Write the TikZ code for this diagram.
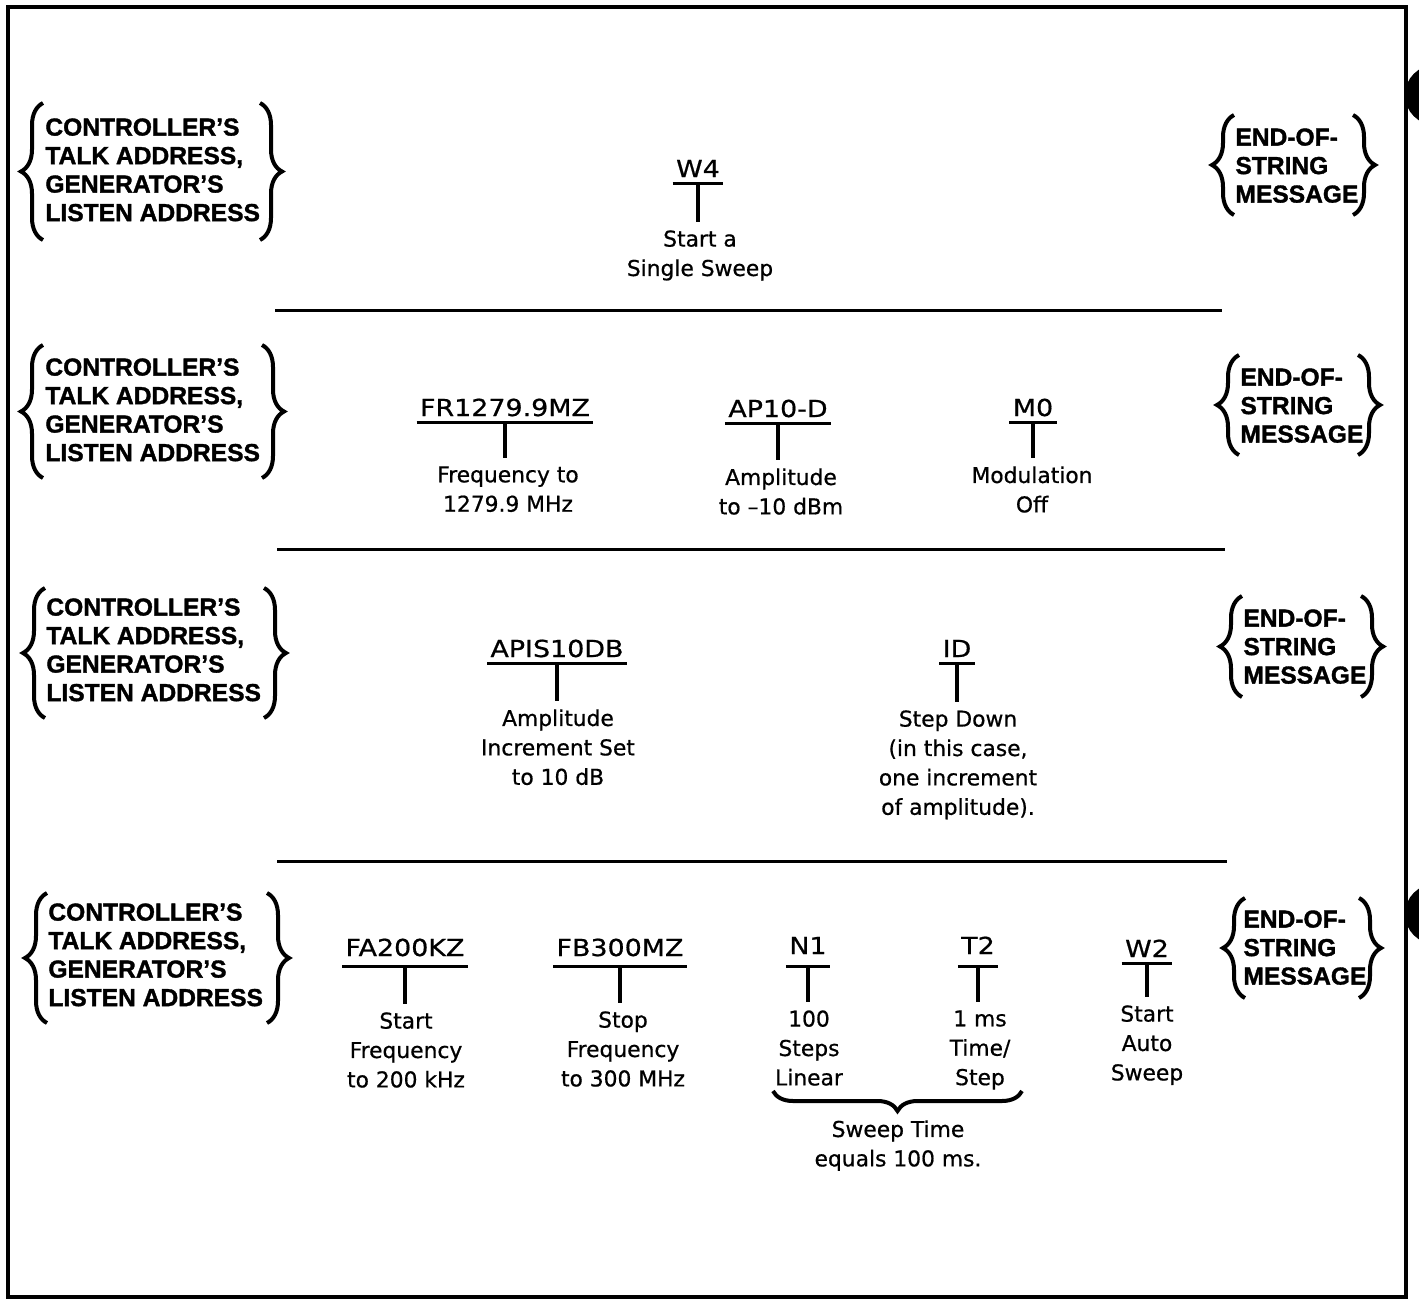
\documentclass[tikz,border=0pt]{standalone}
\usepackage{fontspec}
\setmainfont{DejaVu Sans}[FakeBold=0.7]
\newfontfamily\lblfont{Liberation Sans}[BoldFeatures={FakeBold=1.4}]
\newfontfamily\cmdfont{DejaVu Sans}[FakeStretch=1.15, FakeBold=0.7]
\usepackage{tikz}
\usetikzlibrary{decorations.pathreplacing}

\begin{document}
\begin{tikzpicture}[x=0.5pt, y=-0.5pt,
    lbl/.style={anchor=north west, inner sep=0pt, align=left,
        font=\lblfont\bfseries\fontsize{12.3}{14.25}\selectfont},
    cmd/.style={anchor=base, inner sep=0pt, inner xsep=1.5pt, text depth=3pt,
        font=\cmdfont\fontsize{11.7}{14}\selectfont},
    desc/.style={anchor=north, inner sep=0pt, align=center,
        font=\fontsize{10.9}{14.7}\selectfont},
    curly/.style={decorate, decoration={brace, amplitude=11pt}, line width=2pt},
    uline/.style={line width=1.6pt},
    stemline/.style={line width=1.6pt, shorten >=4pt},
    sepline/.style={line width=1.5pt}]

    % Page size and frame
    \useasboundingbox (0,0) rectangle (1419,1301);
    \draw[line width=1.75pt] (8,7) rectangle (1406,1297);

    % Binding holes on the right edge
    \begin{scope}
        \clip (0,0) rectangle (1419,1301);
        \fill (1435,95) circle [radius=30];
        \fill (1435,914) circle [radius=30];
    \end{scope}

    % First string: single sweep
    \node[lbl] (ta1) at (45,118) {CONTROLLER’S\\TALK ADDRESS,\\GENERATOR’S\\LISTEN ADDRESS};
    \draw[curly] (43,240) -- (43,103);
    \draw[curly] (260,103) -- (260,240);

    \node[cmd] (w4) at (698,177) {W4};
    \node[desc] (w4d) at (700,230) {Start a\\Single Sweep};
    \draw[uline] (w4.south west) -- (w4.south east);
    \draw[stemline] (w4.south) -- (w4.south |- w4d.north);

    \node[lbl] (eos1) at (1235,128) {END-OF-\\STRING\\MESSAGE};
    \draw[curly] (1234,215) -- (1234,115);
    \draw[curly] (1353,115) -- (1353,215);

    \draw[sepline] (275,310) -- (1222,310);

    % Second string: frequency, amplitude, modulation
    \node[lbl] (ta2) at (45,358) {CONTROLLER’S\\TALK ADDRESS,\\GENERATOR’S\\LISTEN ADDRESS};
    \draw[curly] (43,478) -- (43,345);
    \draw[curly] (262,345) -- (262,478);

    \node[cmd] (fr) at (505,416) {FR1279.9MZ};
    \node[desc] (frd) at (508,466) {Frequency to\\1279.9 MHz};
    \draw[uline] (fr.south west) -- (fr.south east);
    \draw[stemline] (fr.south) -- (fr.south |- frd.north);

    \node[cmd] (ap) at (778,417) {AP10-D};
    \node[desc] (apd) at (781,468) {Amplitude\\to –10 dBm};
    \draw[uline] (ap.south west) -- (ap.south east);
    \draw[stemline] (ap.south) -- (ap.south |- apd.north);

    \node[cmd] (m0) at (1033,416) {M0};
    \node[desc] (m0d) at (1032,466) {Modulation\\Off};
    \draw[uline] (m0.south west) -- (m0.south east);
    \draw[stemline] (m0.south) -- (m0.south |- m0d.north);

    \node[lbl] (eos2) at (1240,368) {END-OF-\\STRING\\MESSAGE};
    \draw[curly] (1239,455) -- (1239,355);
    \draw[curly] (1358,355) -- (1358,455);

    \draw[sepline] (277,549) -- (1225,549);

    % Third string: amplitude step
    \node[lbl] (ta3) at (46,598) {CONTROLLER’S\\TALK ADDRESS,\\GENERATOR’S\\LISTEN ADDRESS};
    \draw[curly] (45,718) -- (45,588);
    \draw[curly] (264,588) -- (264,718);

    \node[cmd] (apis) at (557,657) {APIS10DB};
    \node[desc] (apisd) at (558,709) {Amplitude\\Increment Set\\to 10 dB};
    \draw[uline] (apis.south west) -- (apis.south east);
    \draw[stemline] (apis.south) -- (apis.south |- apisd.north);

    \node[cmd] (id) at (957,657) {ID};
    \node[desc] (idd) at (958,710) {Step Down\\(in this case,\\one increment\\of amplitude).};
    \draw[uline] (id.south west) -- (id.south east);
    \draw[stemline] (id.south) -- (id.south |- idd.north);

    \node[lbl] (eos3) at (1243,609) {END-OF-\\STRING\\MESSAGE};
    \draw[curly] (1242,697) -- (1242,596);
    \draw[curly] (1361,596) -- (1361,697);

    \draw[sepline] (277,861) -- (1227,861);

    % Fourth string: auto sweep
    \node[lbl] (ta4) at (48,903) {CONTROLLER’S\\TALK ADDRESS,\\GENERATOR’S\\LISTEN ADDRESS};
    \draw[curly] (47,1023) -- (47,893);
    \draw[curly] (267,893) -- (267,1023);

    \node[cmd, text depth=5pt] (fa) at (405,956) {FA200KZ};
    \node[desc] (fad) at (406,1012) {Start\\Frequency\\to 200 kHz};
    \draw[uline] (fa.south west) -- (fa.south east);
    \draw[stemline] (fa.south) -- (fa.south |- fad.north);

    \node[cmd, text depth=5pt] (fb) at (620,956) {FB300MZ};
    \node[desc] (fbd) at (623,1011) {Stop\\Frequency\\to 300 MHz};
    \draw[uline] (fb.south west) -- (fb.south east);
    \draw[stemline] (fb.south) -- (fb.south |- fbd.north);

    \node[cmd, text depth=6pt] (n1) at (808,954) {N1};
    \node[desc] (n1d) at (809,1010) {100\\Steps\\Linear};
    \draw[uline] (n1.south west) -- (n1.south east);
    \draw[stemline] (n1.south) -- (n1.south |- n1d.north);

    \node[cmd, text depth=6pt] (t2) at (978,954) {T2};
    \node[desc] (t2d) at (980,1010) {1 ms\\Time/\\Step};
    \draw[uline] (t2.south west) -- (t2.south east);
    \draw[stemline] (t2.south) -- (t2.south |- t2d.north);

    \node[cmd] (w2) at (1147,957) {W2};
    \node[desc] (w2d) at (1147,1005) {Start\\Auto\\Sweep};
    \draw[uline] (w2.south west) -- (w2.south east);
    \draw[stemline] (w2.south) -- (w2.south |- w2d.north);

    % Sweep time brace under N1 and T2
    \coordinate (swl) at (773,1091);
    \coordinate (swr) at (1022,1091);
    \draw[curly, decoration={brace, mirror, amplitude=10pt}] (swl) -- (swr);
    \node[desc] (sweep) at (898,1120) {Sweep Time\\equals 100 ms.};

    \node[lbl] (eos4) at (1243,910) {END-OF-\\STRING\\MESSAGE};
    \draw[curly] (1245,998) -- (1245,898);
    \draw[curly] (1359,898) -- (1359,998);
\end{tikzpicture}
\end{document}
